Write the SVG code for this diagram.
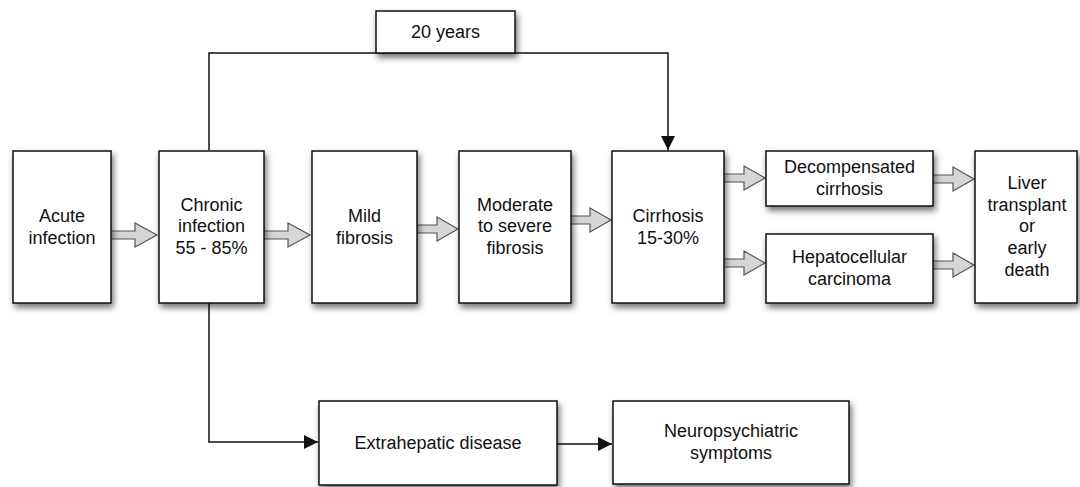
<svg xmlns="http://www.w3.org/2000/svg" width="1080" height="487" viewBox="0 0 1080 487">
<style>
.box{fill:#fff;stroke:#111;stroke-width:1.5;filter:url(#sh)}
.t{font-family:"Liberation Sans",Arial,sans-serif;font-size:18px;fill:#111;text-anchor:middle}
.ln{fill:none;stroke:#111;stroke-width:1.5}
.ha{fill:#d6d6d6;stroke:#555;stroke-width:1.2;stroke-linejoin:miter}
</style>
<defs>
<filter id="sh" x="-20%" y="-20%" width="150%" height="150%">
<feDropShadow dx="2" dy="4" stdDeviation="3" flood-color="#000" flood-opacity="0.55"/>
</filter>
<marker id="ah2" viewBox="0 0 12 12" refX="12" refY="6" markerWidth="14" markerHeight="14" markerUnits="userSpaceOnUse" orient="auto">
<path d="M0,0 L12,6 L0,12 z" fill="#111"/>
</marker>
</defs>
<g id="connectors">
<path class="ln" d="M209,150 V53 H668 V150" marker-end="url(#ah2)"/>
<path class="ln" d="M209,303 V442 H318" marker-end="url(#ah2)"/>
<path class="ln" d="M557,444 H612" marker-end="url(#ah2)"/>
<path class="ha" d="M111,231 H135 V223 L157,235 L135,247 V239 H111"/>
<path class="ha" d="M264,231 H288 V223 L310,235 L288,247 V239 H264"/>
<path class="ha" d="M417,225 H437 V217 L458,229 L437,241 V233 H417"/>
<path class="ha" d="M571,216 H590 V208 L611,220 L590,232 V224 H571"/>
<path class="ha" d="M724,174 H744 V166 L765,178 L744,190 V182 H724"/>
<path class="ha" d="M724,259 H744 V251 L765,263 L744,275 V267 H724"/>
<path class="ha" d="M933,175 H953 V167 L974,179 L953,191 V183 H933"/>
<path class="ha" d="M933,261 H953 V253 L974,265 L953,277 V269 H933"/>
</g>
<g id="n20years"><rect class="box" x="376" y="11" width="139" height="42"/><text class="t" x="445.5" y="38">20 years</text></g>
<g id="acute"><rect class="box" x="13" y="151" width="98" height="152"/><text class="t" x="62" y="222">Acute</text><text class="t" x="62" y="244">infection</text></g>
<g id="chronic"><rect class="box" x="159" y="151" width="105" height="152"/><text class="t" x="211.5" y="211">Chronic</text><text class="t" x="211.5" y="232">infection</text><text class="t" x="211.5" y="254">55 - 85%</text></g>
<g id="mild"><rect class="box" x="312" y="151" width="105" height="152"/><text class="t" x="364.5" y="222">Mild</text><text class="t" x="364.5" y="244">fibrosis</text></g>
<g id="moderate"><rect class="box" x="459" y="151" width="112" height="152"/><text class="t" x="515" y="211">Moderate</text><text class="t" x="515" y="232">to severe</text><text class="t" x="515" y="254">fibrosis</text></g>
<g id="cirrhosis"><rect class="box" x="612" y="151" width="112" height="152"/><text class="t" x="668" y="222">Cirrhosis</text><text class="t" x="668" y="244">15-30%</text></g>
<g id="decomp"><rect class="box" x="766" y="151" width="167" height="55"/><text class="t" x="849.5" y="173">Decompensated</text><text class="t" x="849.5" y="195">cirrhosis</text></g>
<g id="hcc"><rect class="box" x="766" y="234" width="167" height="69"/><text class="t" x="849.5" y="263">Hepatocellular</text><text class="t" x="849.5" y="285">carcinoma</text></g>
<g id="liver"><rect class="box" x="975" y="151" width="102" height="152"/><text class="t" x="1027" y="189">Liver</text><text class="t" x="1027" y="211">transplant</text><text class="t" x="1027" y="232">or</text><text class="t" x="1027" y="254">early</text><text class="t" x="1027" y="276">death</text></g>
<g id="extra"><rect class="box" x="319" y="401" width="238" height="84"/><text class="t" x="438" y="449">Extrahepatic disease</text></g>
<g id="neuro"><rect class="box" x="613" y="401" width="236" height="83"/><text class="t" x="731" y="437">Neuropsychiatric</text><text class="t" x="731" y="459">symptoms</text></g>
</svg>
